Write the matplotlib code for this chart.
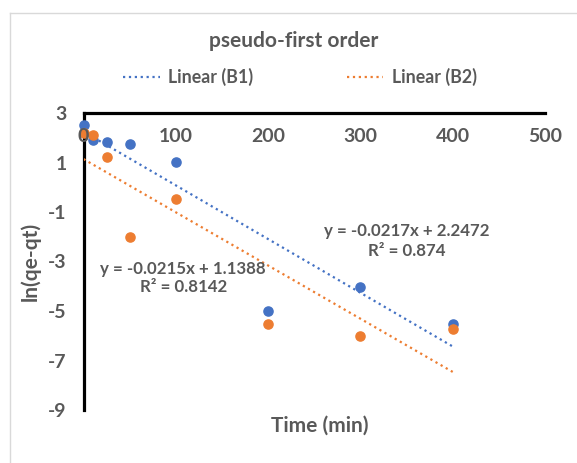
import matplotlib
matplotlib.use("Agg")
import matplotlib.pyplot as plt
import numpy as np
from matplotlib.lines import Line2D

# data
time = [0, 10, 25, 50, 100, 200, 300, 400]
b1 = [2.52, 1.91, 1.82, 1.73, 1.02, -5.02, -4.03, -5.51]
b2 = [2.20, 2.13, 1.22, -2.01, -0.49, -5.54, -6.03, -5.72]

# trendlines as printed on the chart
fit_b1 = (-0.0217, 2.2472, 0.874)
fit_b2 = (-0.0215, 1.1388, 0.8142)

xticks = [0, 100, 200, 300, 400, 500]
yticks = [3, 1, -1, -3, -5, -7, -9]

blue = "#4472C4"
orange = "#ED7D31"
grey = "#595959"

plt.rcParams["font.family"] = ["Lato", "DejaVu Sans"]
plt.rcParams["font.weight"] = "bold"
plt.rcParams["axes.unicode_minus"] = False

W, H = 577, 463
my_dpi = 100
fig = plt.figure(figsize=(W / my_dpi, H / my_dpi), dpi=my_dpi)
ax = fig.add_axes([83.5 / W, 1 - 410 / H, (545 - 83.5) / W, (410 - 113) / H])

ax.set_xlim(0, 500)
ax.set_ylim(-9, 3)

ax.plot(time, b1, ls="", marker="o", ms=6.6, c=blue, clip_on=False, zorder=3)
ax.plot(time, b2, ls="", marker="o", ms=6.6, c=orange, clip_on=False, zorder=3)

xx = np.array([0, 400])
ax.plot(xx, fit_b1[0] * xx + fit_b1[1], ls=":", lw=1.6, c=blue, zorder=2)
ax.plot(xx, fit_b2[0] * xx + fit_b2[1], ls=":", lw=1.6, c=orange, zorder=2)

ax.text(350, -2.17, "y = %.4fx + %.4f\nR\u00b2 = %s" % (fit_b1[0], fit_b1[1], fit_b1[2]),
        ha="center", va="center", fontsize=12.2, fontweight="bold", color=grey,
        linespacing=1.25)
ax.text(108, -3.67, "y = %.4fx + %.4f\nR\u00b2 = %s" % (fit_b2[0], fit_b2[1], fit_b2[2]),
        ha="center", va="center", fontsize=12.2, fontweight="bold", color=grey,
        linespacing=1.2)

for s in ["right", "top"]:
    ax.spines[s].set_visible(False)
ax.spines["bottom"].set_position(("data", 3))
ax.spines["bottom"].set_linewidth(2.3)
ax.spines["left"].set_linewidth(2.3)
ax.spines["bottom"].set_zorder(1)
ax.spines["left"].set_zorder(1)

ax.set_xticks(xticks)
ax.set_yticks(yticks)
ax.tick_params(axis="x", length=0, pad=11, labelsize=14, labelcolor=grey)
ax.tick_params(axis="y", length=0, pad=12, labelsize=14, labelcolor=grey)
for lab in ax.get_xticklabels() + ax.get_yticklabels():
    lab.set_fontweight("bold")
ax.xaxis.set_zorder(4)
ax.yaxis.set_zorder(4)

fig.text(320 / W, 1 - 426 / H, "Time (min)", ha="center", va="center",
         fontsize=15, fontweight="bold", color=grey)
fig.text(30 / W, 1 - 261 / H, "ln(qe-qt)", ha="center", va="center",
         rotation=90, fontsize=15, fontweight="bold", color=grey)
fig.text(294 / W, 1 - 41 / H, "pseudo-first order", ha="center", va="center",
         fontsize=15, fontweight="bold", color=grey)

# legend, trendlines only
legend_items = [("Linear (B1)", blue, 123, 160, 168), ("Linear (B2)", orange, 347, 383, 392)]
for name, col, x0, x1, xt in legend_items:
    fig.add_artist(Line2D([x0 / W, x1 / W], [1 - 77 / H, 1 - 77 / H], ls=":", lw=1.6, c=col))
    fig.text(xt / W, 1 - 77 / H, name, ha="left", va="center",
             fontsize=12.8, fontweight="bold", color=grey)

# light chart border
fig.add_artist(Line2D([9.5 / W, 9.5 / W], [0, 1 - 12.5 / H], c="#D9D9D9", lw=1))
fig.add_artist(Line2D([9.5 / W, 1], [1 - 12.5 / H, 1 - 12.5 / H], c="#D9D9D9", lw=1))

plt.savefig("out.png", dpi=my_dpi, facecolor="white")
